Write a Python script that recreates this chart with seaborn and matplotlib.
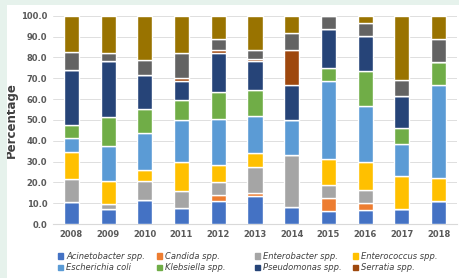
import matplotlib
matplotlib.use("Agg")
import matplotlib.pyplot as plt
import matplotlib.patches as mpatches
import seaborn as sns
import numpy as np

years = ["2008", "2009", "2010", "2011", "2012", "2013", "2014", "2015", "2016", "2017", "2018"]

acinetobacter = [10.7, 7.0, 11.4, 7.8, 10.9, 13.4, 8.2, 6.1, 6.6, 7.4, 10.9]
candida       = [0.0, 0.0, 0.0, 0.0, 3.0, 1.5, 0.0, 6.2, 3.3, 0.0, 0.0]
enterobacter  = [10.7, 2.6, 9.4, 8.2, 6.1, 12.5, 25.1, 6.4, 6.6, 0.0, 0.0]
enterococcus  = [13.3, 11.0, 5.1, 13.6, 8.3, 6.7, 0.0, 12.3, 13.4, 15.6, 11.3]
ecoli         = [6.4, 17.0, 17.6, 20.3, 22.1, 17.9, 16.6, 37.6, 26.7, 15.4, 44.4]
klebsiella    = [6.6, 13.9, 11.7, 9.6, 13.1, 12.3, 0.0, 6.3, 16.8, 7.7, 11.2]
pseudomonas   = [26.2, 26.7, 16.2, 9.3, 18.4, 13.8, 16.8, 18.7, 16.7, 15.3, 0.0]
serratia      = [0.0, 0.0, 0.0, 1.4, 1.8, 1.1, 16.7, 0.0, 0.0, 0.0, 0.0]
other_gray    = [8.7, 3.9, 7.5, 12.0, 5.1, 4.3, 8.3, 6.4, 6.5, 7.9, 11.0]
other_olive   = [17.4, 17.9, 21.1, 17.8, 11.2, 16.5, 8.3, 0.0, 3.4, 30.7, 11.2]

series = [
    ("Acinetobacter spp.", acinetobacter, "#4472C4"),
    ("Candida spp.", candida, "#ED7D31"),
    ("Enterobacter spp.", enterobacter, "#A5A5A5"),
    ("Enterococcus spp.", enterococcus, "#FFC000"),
    ("Escherichia coli", ecoli, "#5B9BD5"),
    ("Klebsiella spp.", klebsiella, "#70AD47"),
    ("Pseudomonas spp.", pseudomonas, "#264478"),
    ("Serratia spp.", serratia, "#9E480E"),
    ("_gray", other_gray, "#636363"),
    ("_olive", other_olive, "#997300"),
]

sns.set_style("white")
fig = plt.figure(figsize=(4.6, 2.78), dpi=100, facecolor="white")
mint = "#e6f2ec"
# mint frame strips (left and top)
fig.patches.append(mpatches.Rectangle((0, 0), 7 / 460, 1, transform=fig.transFigure,
                                      facecolor=mint, edgecolor="none"))
fig.patches.append(mpatches.Rectangle((0, 1 - 5 / 278), 1, 5 / 278, transform=fig.transFigure,
                                      facecolor=mint, edgecolor="none"))
ax = fig.add_axes([53 / 460, 1 - 224 / 278, 404 / 460, (224 - 15.7) / 278])
ax.set_facecolor("none")

bottom = np.zeros(len(years))
for name, vals, col in series:
    sns.barplot(x=years, y=vals, bottom=bottom, color=col, width=0.41, ax=ax,
                saturation=1, errorbar=None, zorder=3)
    bottom = bottom + np.array(vals)

ax.set_xlim(-0.5, 10.5)
ax.set_ylim(0, 100)
ax.set_yticks(np.arange(0, 101, 10))
ax.set_yticklabels([f"{v:.1f}" for v in np.arange(0, 101, 10)])
ax.grid(axis="y", color="#d9d9d9", linewidth=0.6, zorder=0)
ax.set_axisbelow(True)
for s in ["top", "right", "left"]:
    ax.spines[s].set_visible(False)
ax.spines["bottom"].set_color("#d9d9d9")
ax.tick_params(axis="both", length=0, labelsize=6, labelcolor="#595959", pad=4)
for lab in ax.get_xticklabels() + ax.get_yticklabels():
    lab.set_fontweight("bold")
ax.set_xlabel("")
ax.set_ylabel("Percentage", fontsize=8.5, fontweight="bold", color="#404040")
ax.yaxis.set_label_coords((18 - 53) / 404, 0.5)

# legend: 4 columns of 2 rows
cols = [[0, 4], [1, 5], [2, 6], [3, 7]]
xpos = [58, 157, 255, 353]
for xp, idx in zip(xpos, cols):
    handles = [mpatches.Patch(color=series[i][2], label=series[i][0]) for i in idx]
    fig.legend(handles=handles, loc="upper left", bbox_to_anchor=(xp / 460, 1 - 252 / 278),
               frameon=False, prop={"size": 6, "style": "italic"}, labelcolor="#404040",
               handlelength=0.6, handleheight=0.6, handletextpad=0.4, labelspacing=0.25,
               borderpad=0, borderaxespad=0)

fig.savefig("out.png", dpi=100, facecolor=fig.get_facecolor())
